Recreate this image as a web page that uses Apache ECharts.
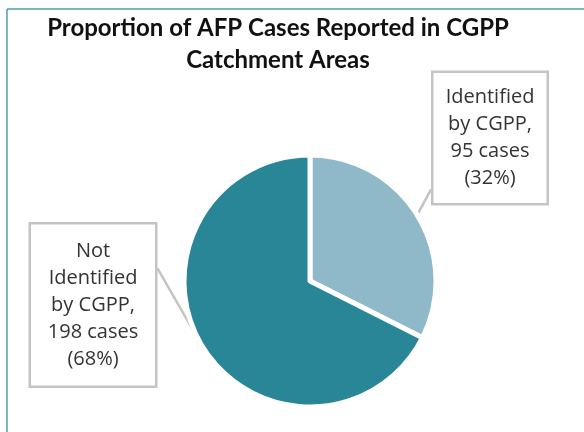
<!DOCTYPE html>
<html>
<head>
<meta charset="utf-8">
<script src="https://cdn.jsdelivr.net/npm/echarts@6/dist/echarts.min.js"></script>
<style>
html,body{margin:0;padding:0;background:#fff;}
#chart{width:584px;height:432px;}
</style>
</head>
<body>
<div id="chart"></div>
<script>
var categories = ['Identified by CGPP', 'Not Identified by CGPP'];
var caseCounts = [95, 198];
var labelNameLines = [['Identified', 'by CGPP,'], ['Not', 'Identified', 'by CGPP,']];
var sliceColors = ['#8fb9c9', '#288697'];

var Chart = {
	init: function () {
		var myChart = echarts.init(document.getElementById('chart'));
		var data = categories.map(function (c, i) {
			return { name: c, value: caseCounts[i], itemStyle: { color: sliceColors[i] } };
		});
		// label box placement (centre of each callout box)
		var boxPos = [[490, 138], [93, 305]];
		var boxWidth = [113, 124];
		var boxPad = [11, 13];
		// where the pointer meets the box: [fraction across, fraction down]
		var pointerAnchor = [[0, 0.88], [1, 0.28]];
		var option = {
			animation: false,
			title: {
				text: 'Proportion of AFP Cases Reported in CGPP\nCatchment Areas',
				left: 278,
				top: 12,
				textAlign: 'center',
				padding: 0,
				textStyle: {
					fontFamily: 'Lato',
					fontWeight: 'bold',
					fontSize: 24,
					lineHeight: 32,
					color: '#111'
				}
			},
			graphic: [
				{ type: 'line', shape: { x1: 7, y1: 9, x2: 584, y2: 9 }, style: { stroke: '#4f9ea6', lineWidth: 1.5 } },
				{ type: 'line', shape: { x1: 7, y1: 9, x2: 7, y2: 432 }, style: { stroke: '#4f9ea6', lineWidth: 1.5 } }
			],
			series: [{
				type: 'pie',
				center: [310, 281],
				radius: 126,
				startAngle: 90,
				clockwise: true,
				data: data,
				itemStyle: { borderColor: '#fff', borderWidth: 5 },
				label: {
					show: true,
					position: 'outside',
					fontFamily: 'Open Sans',
					fontSize: 20,
					lineHeight: 27,
					color: '#333',
					align: 'center',
					backgroundColor: '#fff',
					borderColor: '#c4c4c4',
					borderWidth: 2.5,
					formatter: function (p) {
						return labelNameLines[p.dataIndex].concat([
							p.value + ' cases',
							'(' + Math.round(p.percent) + '%)'
						]).join('\n');
					}
				},
				labelLine: {
					show: true,
					length: 0,
					length2: 0,
					lineStyle: { color: '#c4c4c4', width: 2.5 }
				},
				labelLayout: function (params) {
					var i = params.dataIndex;
					var w = params.labelRect.width, h = params.labelRect.height;
					var bx = boxPos[i][0] - w / 2, by = boxPos[i][1] - h / 2;
					var start = params.labelLinePoints ? params.labelLinePoints[0] : null;
					var res = {
						x: boxPos[i][0],
						y: boxPos[i][1],
						align: 'center',
						verticalAlign: 'middle',
						width: boxWidth[i]
					};
					if (start) {
						res.labelLinePoints = [
							start,
							[bx + w * pointerAnchor[i][0], by + h * pointerAnchor[i][1]]
						];
					}
					return res;
				}
			}]
		};
		option.series[0].data.forEach(function (d, i) {
			d.label = { width: boxWidth[i], padding: [boxPad[i], 0] };
		});
		myChart.setOption(option, true);
	}
};

Chart.init();
</script>
</body>
</html>
